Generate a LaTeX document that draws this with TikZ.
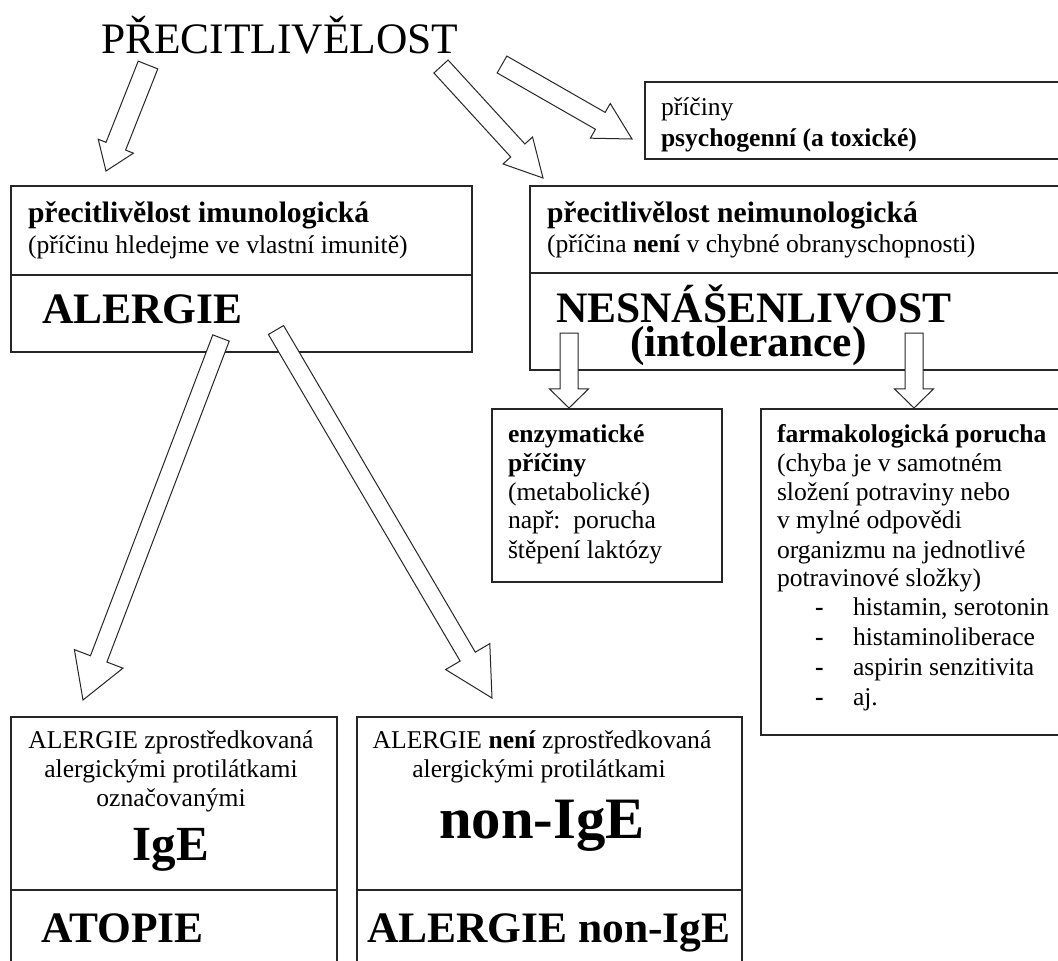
\documentclass[tikz,border=0pt]{standalone}
\usepackage{fontspec}
\setmainfont{Liberation Serif}
\usetikzlibrary{calc}
\newcommand{\fTitle}{\fontsize{32.6}{36}\selectfont}
\newcommand{\fHead}{\fontsize{22.2}{26}\selectfont}
\newcommand{\fReg}{\fontsize{19.2}{22}\selectfont}
\newcommand{\fBig}{\fontsize{32.6}{36}\selectfont\bfseries}
\newcommand{\fIgE}{\fontsize{36.8}{40}\selectfont\bfseries}
\newcommand{\fNon}{\fontsize{44}{48}\selectfont\bfseries}
% #1 tail, #2 tip, #3 half shaft width, #4 half head width, #5 head length
\newcommand{\hollowarrow}[5]{%
  \coordinate (hb) at ($(#2)!#5!(#1)$);
  \filldraw[arrowline] ($(#1)!#3!90:(#2)$) -- ($(hb)!#3!90:(#2)$) -- ($(hb)!#4!90:(#2)$) -- (#2)
    -- ($(hb)!#4!-90:(#2)$) -- ($(hb)!#3!-90:(#2)$) -- ($(#1)!#3!-90:(#2)$) -- cycle;
}
\begin{document}
\begin{tikzpicture}[x=0.75pt,y=-0.75pt,
  boxline/.style={draw=black!85, line width=0.9pt},
  arrowline/.style={draw=black!85, fill=white, line width=0.75pt, line join=miter},
  txt/.style={inner sep=0pt, outer sep=0pt, anchor=base west},
  ctxt/.style={inner sep=0pt, outer sep=0pt, anchor=base}]
\useasboundingbox (0,0) rectangle (1058,961);
\clip (0,0) rectangle (1058,961);
\fill[white] (0,0) rectangle (1058,961);

% boxes
\draw[boxline] (11,186) rectangle (472,352);
\draw[boxline] (11,275) -- (472,275);
\draw[boxline] (645,82) rectangle (1080,159);
\draw[boxline] (530,186) rectangle (1080,370);
\draw[boxline] (530,273) -- (1080,273);
\draw[boxline] (492,409) rectangle (722,582);
\draw[boxline] (761,409) rectangle (1080,735);
\draw[boxline] (11,717) rectangle (337,1000);
\draw[boxline] (11,890) -- (337,890);
\draw[boxline] (357,717) rectangle (742,1000);
\draw[boxline] (357,890) -- (742,890);

% arrow end points
\coordinate (a1s) at (148,65);   \coordinate (a1e) at (106,171);
\coordinate (a2s) at (502,64.5); \coordinate (a2e) at (632,139);
\coordinate (a3s) at (441,66.5); \coordinate (a3e) at (543,178);
\coordinate (a4s) at (221,338);  \coordinate (a4e) at (83,700);
\coordinate (a5s) at (276,330);  \coordinate (a5e) at (492,698);
\coordinate (c1s) at (569,333);  \coordinate (c1e) at (569,408);
\coordinate (c2s) at (914,333);  \coordinate (c2e) at (914,408);

\hollowarrow{a1s}{a1e}{7.9pt}{14.2pt}{20pt}
\hollowarrow{a2s}{a2e}{7.3pt}{15pt}{27.4pt}
\hollowarrow{a3s}{a3e}{7.2pt}{15pt}{28pt}
\hollowarrow{a4s}{a4e}{6.6pt}{19.5pt}{33pt}
\hollowarrow{a5s}{a5e}{6.6pt}{19.2pt}{36pt}
\hollowarrow{c1s}{c1e}{6.75pt}{14.6pt}{14.3pt}
\hollowarrow{c2s}{c2e}{6.75pt}{14.6pt}{14.3pt}

% title
\node[txt] (title) at (101,53) {\fTitle PŘECITLIVĚLOST};

% box A
\node[txt] (aH) at (28,222) {\fHead\bfseries přecitlivělost imunologická};
\node[txt] (aS) at (28,253) {\fReg (příčinu hledejme ve vlastní imunitě)};
\node[txt] (aB) at (42,323) {\fBig ALERGIE};

% box B
\node[txt] (b1) at (661,115) {\fReg příčiny};
\node[txt] (b2) at (661,146) {\fReg\bfseries psychogenní (a toxické)};

% box C
\node[txt] (cH) at (547,222) {\fHead\bfseries přecitlivělost neimunologická};
\node[txt] (cS) at (547,252) {\fReg (příčina \textbf{není} v chybné obranyschopnosti)};
\node[txt] (cB) at (556,322) {\fBig\vtop{\baselineskip=26pt\lineskiplimit=-30pt
  \hbox{NESNÁŠENLIVOST}\hbox{\hspace*{55.5pt}(intolerance)}}};

% box D
\node[txt] (d1) at (508,442) {\fReg\bfseries enzymatické};
\node[txt] (d2) at (508,471) {\fReg\bfseries příčiny};
\node[txt] (d3) at (508,500) {\fReg (metabolické)};
\node[txt] (d4) at (508,528) {\fReg např:\ \ porucha};
\node[txt] (d5) at (508,558) {\fReg štěpení laktózy};

% box E
\node[txt] (e1) at (777,442) {\fReg\bfseries farmakologická porucha};
\node[txt] (e2) at (777,471) {\fReg (chyba je v samotném};
\node[txt] (e3) at (777,500) {\fReg složení potraviny nebo};
\node[txt] (e4) at (777,528) {\fReg v mylné odpovědi};
\node[txt] (e5) at (777,558) {\fReg organizmu na jednotlivé};
\node[txt] (e6) at (777,586) {\fReg potravinové složky)};
\node[txt] (k1) at (815,615) {\fReg\bfseries -};
\node[txt] (k2) at (815,645) {\fReg\bfseries -};
\node[txt] (k3) at (815,675) {\fReg\bfseries -};
\node[txt] (k4) at (815,705) {\fReg\bfseries -};
\node[txt] (l1) at (853,615) {\fReg histamin, serotonin};
\node[txt] (l2) at (853,645) {\fReg histaminoliberace};
\node[txt] (l3) at (853,675) {\fReg aspirin senzitivita};
\node[txt] (l4) at (853,705) {\fReg aj.};

% box F
\node[ctxt] (f1) at (171,748) {\fReg ALERGIE zprostředkovaná};
\node[ctxt] (f2) at (171,777) {\fReg alergickými protilátkami};
\node[ctxt] (f3) at (171,806) {\fReg označovanými};
\node[ctxt] (f4) at (171,860) {\fIgE IgE};
\node[txt] (f5) at (41,942) {\fBig ATOPIE};

% box G
\node[ctxt] (g1) at (542,748) {\fReg ALERGIE \textbf{není} zprostředkovaná};
\node[ctxt] (g2) at (539,777) {\fReg alergickými protilátkami};
\node[ctxt] (g3) at (542,838) {\fNon non-IgE};
\node[txt] (g4) at (367,942) {\fBig ALERGIE non-IgE};
\end{tikzpicture}
\end{document}
